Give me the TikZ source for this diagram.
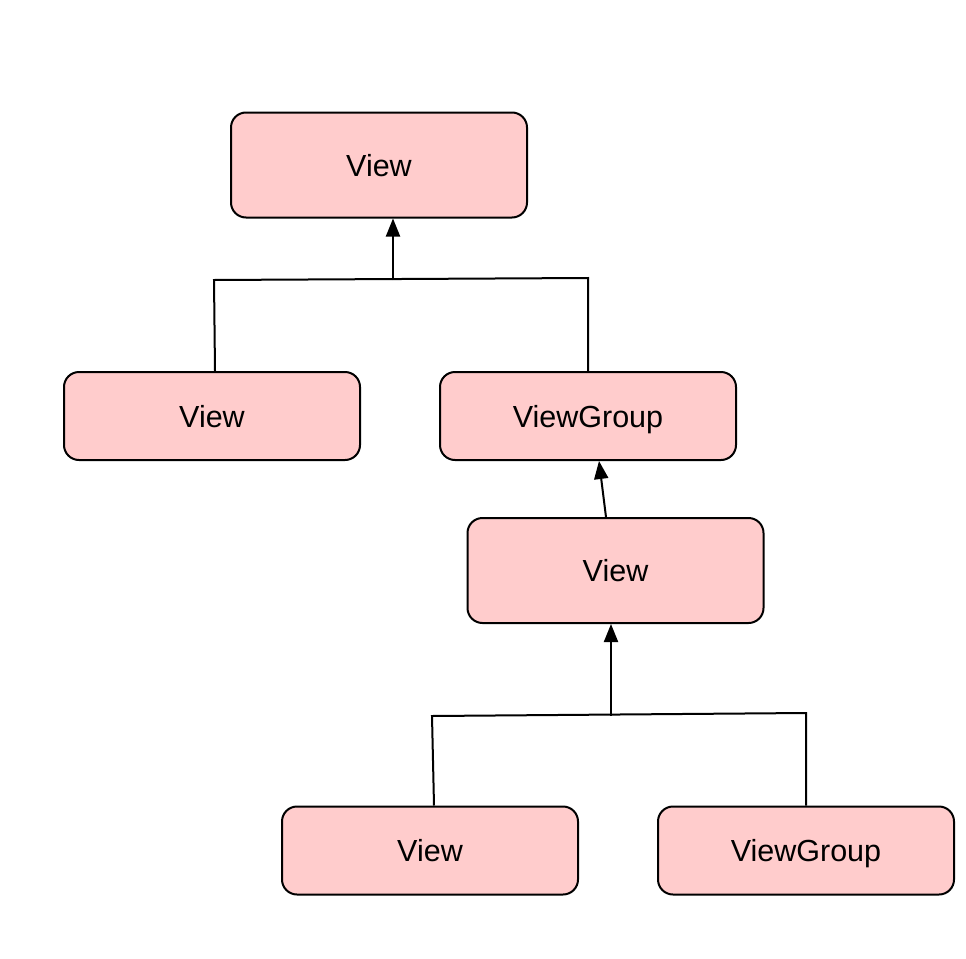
\documentclass[tikz,border=0pt]{standalone}
\usepackage{fontspec}
\setmainfont{Liberation Sans}
\usetikzlibrary{arrows.meta}
\definecolor{boxfill}{HTML}{FFCCCC}
\begin{document}
\begin{tikzpicture}[x=1pt,y=-1pt,
  box/.style={draw=black, line width=2pt, fill=boxfill, rounded corners=15pt,
    minimum width=296pt, inner sep=0pt, text height=22pt, text depth=0pt,
    font=\fontsize{30.5}{36}\selectfont},
  tall/.style={box, minimum height=105pt},
  short/.style={box, minimum height=88pt},
  conn/.style={draw=black, line width=2pt},
  arr/.style={conn, -{Triangle[length=18pt,width=14pt]}}]
\useasboundingbox (0,0) rectangle (966,958);
\node[tall]  (v1) at (379,165)   {View};
\node[short] (v2) at (212,416)   {View};
\node[short] (v3) at (588,416)   {ViewGroup};
\node[tall]  (v4) at (615.5,570.5) {View};
\node[short] (v5) at (430,850.5) {View};
\node[short] (v6) at (806,850.5) {ViewGroup};
% top junction
\coordinate (a1) at (214,280);
\coordinate (a0) at (393,280);
\coordinate (a2) at (588,278);
\draw[conn] ([xshift=3pt]v2.north) -- (a1) -- (a2) -- (v3.north);
\draw[arr] (a0) -- (a0 |- v1.south);
% middle
\draw[arr] ([xshift=-9.5pt]v4.north) -- ([xshift=11pt]v3.south);
% bottom junction
\coordinate (b1) at (432,716);
\coordinate (b0) at (611,716);
\coordinate (b2) at (806,713);
\draw[conn] ([xshift=4pt]v5.north) -- (b1) -- (b2) -- (v6.north);
\draw[arr] (b0) -- (b0 |- v4.south);
\end{tikzpicture}
\end{document}
